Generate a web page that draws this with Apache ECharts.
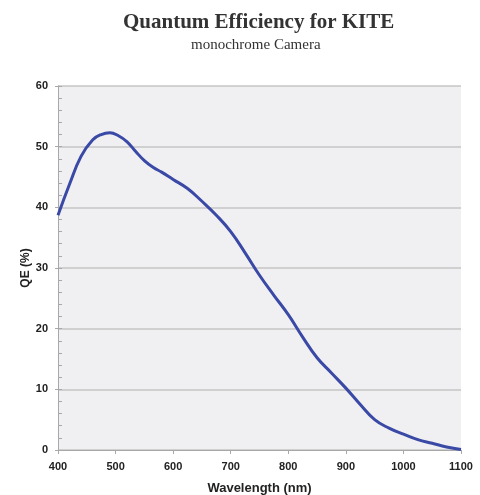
<!DOCTYPE html>
<html>
<head>
<meta charset="utf-8">
<script src="https://cdn.jsdelivr.net/npm/echarts@6/dist/echarts.min.js"></script>
<style>
  html, body { margin: 0; padding: 0; background: #fff; }
  #qe { width: 480px; height: 495px; }
</style>
</head>
<body>
<div id="qe"></div>
<script>
var wavelength = [400, 420, 440, 460, 475, 490, 505, 520, 535, 550, 565, 580, 600, 625, 650, 675, 700,
    725, 750, 775, 800, 825, 850, 875, 900, 925, 950, 975, 1000, 1025, 1050, 1075, 1100];
var qe = [38.7, 43.8, 48.4, 51.1, 52.0, 52.3, 51.8, 50.8, 49.2, 47.7, 46.6, 45.8, 44.6, 43.1, 41.0, 38.7, 36.0,
    32.5, 28.8, 25.5, 22.3, 18.6, 15.2, 12.7, 10.2, 7.5, 5.0, 3.6, 2.6, 1.7, 1.1, 0.5, 0.1];
var xTicks = [400, 500, 600, 700, 800, 900, 1000, 1100];

var chartDom = document.getElementById('qe');
var myChart = echarts.init(chartDom);
var option;

var axisFont = { fontFamily: 'Liberation Sans', fontWeight: 'bold', fontSize: 11, color: '#222' };
var tickColor = '#a8a8a8';

option = {
    title: [
        {
            text: 'Quantum Efficiency for KITE',
            left: 118,
            top: 7,
            textStyle: { fontFamily: 'Liberation Serif', fontWeight: 'bold', fontSize: 21, color: '#333' }
        },
        {
            text: 'monochrome Camera',
            left: 186,
            top: 33,
            textStyle: { fontFamily: 'Liberation Serif', fontWeight: 'normal', fontSize: 15, color: '#333' }
        }
    ],
    grid: {
        left: 58, right: 19, top: 86, bottom: 45,
        outerBoundsMode: 'none',
        show: true,
        backgroundColor: '#f0f0f2',
        borderWidth: 0
    },
    xAxis: {
        type: 'value',
        min: xTicks[0], max: xTicks[xTicks.length - 1], interval: 100,
        name: 'Wavelength (nm)',
        nameLocation: 'middle',
        nameGap: 32,
        nameMoveOverlap: false,
        nameTextStyle: { fontFamily: 'Liberation Sans', fontWeight: 'bold', fontSize: 13, color: '#222' },
        axisLine: { show: true, lineStyle: { color: tickColor } },
        axisTick: { show: true, length: 4, lineStyle: { color: tickColor } },
        axisLabel: Object.assign({ margin: 11, formatter: function (v) { return String(v); } }, axisFont),
        splitLine: { show: false }
    },
    yAxis: [
        {
            type: 'value',
            min: 0, max: 60, interval: 10,
            name: 'QE (%)',
            nameLocation: 'middle',
            nameGap: 26,
            nameMoveOverlap: false,
            nameTextStyle: { fontFamily: 'Liberation Sans', fontWeight: 'bold', fontSize: 12, color: '#222' },
            axisLine: { show: true, lineStyle: { color: tickColor } },
            axisTick: { show: true, length: 3, lineStyle: { color: tickColor } },
            axisLabel: Object.assign({ margin: 10 }, axisFont),
            splitLine: { show: true, lineStyle: { color: '#c6c6c6', width: 1.5 } }
        },
        {
            // minor ticks drawn inside the plot
            type: 'value',
            position: 'left',
            min: 0, max: 60, interval: 2,
            axisLine: { show: false },
            axisTick: { show: true, inside: true, length: 4, lineStyle: { color: tickColor } },
            axisLabel: { show: false },
            splitLine: { show: false }
        }
    ],
    series: [
        {
            type: 'line',
            data: wavelength.map(function (w, i) { return [w, qe[i]]; }),
            smooth: 0.45,
            showSymbol: false,
            lineStyle: { color: '#3a49a6', width: 3 },
            animation: false
        }
    ]
};

option && myChart.setOption(option);
</script>
</body>
</html>
